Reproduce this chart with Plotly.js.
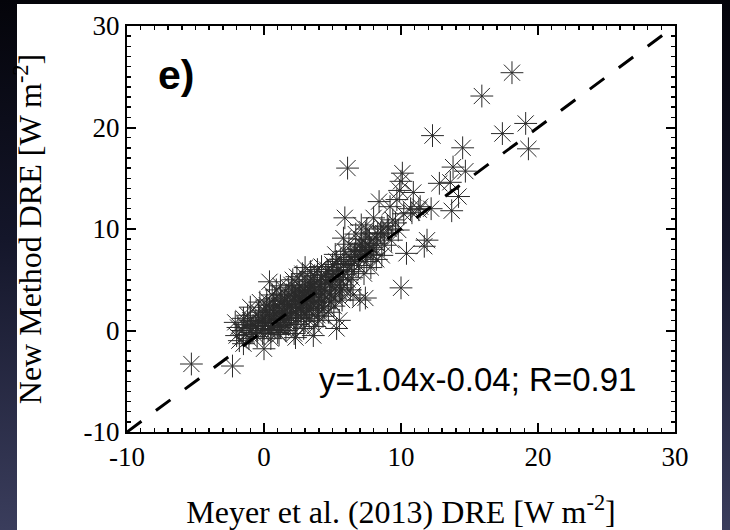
<!DOCTYPE html>
<html>
<head>
<meta charset="utf-8">
<script src="https://cdn.plot.ly/plotly-3.0.1.min.js"></script>
<style>
  html, body { margin: 0; padding: 0; width: 730px; height: 530px; overflow: hidden; }
  body { background: linear-gradient(to bottom, #04040a 0%, #14162a 45%, #3a3d5c 100%); position: relative; }
  #panel { position: absolute; left: 17px; top: 4px; width: 705px; height: 526px; background: #ffffff; }
  #chart { position: absolute; left: 0; top: 0; width: 730px; height: 530px; }
</style>
</head>
<body>
<div id="panel"></div>
<div id="chart"></div>
<script>
// Meyer et al. (2013) DRE (x) and New Method DRE (y), W m-2
const meyerDRE = [
  -5.3, -2.3,
  -2.0, -1.9, -2.1, -1.8,
  -1.5, -1.6, -1.4, -1.5, -1.3,
  -1.0, -1.1, -0.9, -1.0, -1.2, -0.8, -1.0,
  -0.5, -0.4, -0.6, -0.5, -0.3, -0.6, -0.4,
  0.0, 0.1, -0.1, 0.0, 0.2, -0.1, 0.1, 0.0, 0.2,
  0.4, 0.5, 0.3, 0.4, 0.6, 0.3, 0.5, 0.4,
  0.8, 0.9, 0.7, 0.8, 1.0, 0.7, 0.9, 0.8,
  1.2, 1.3, 1.1, 1.2, 1.4, 1.1, 1.3, 1.2, 1.4,
  1.6, 1.7, 1.5, 1.6, 1.8, 1.5, 1.7, 1.6, 1.8,
  2.0, 2.1, 1.9, 2.0, 2.2, 1.9, 2.1, 2.0, 2.2,
  2.3, 2.4, 2.3, 2.5, 2.3, 2.4, 2.5, 2.4,
  2.7, 2.8, 2.6, 2.7, 2.9, 2.6, 2.8, 2.7, 2.9,
  3.0, 3.1, 3.0, 3.2, 3.0, 3.1, 3.2, 3.0, 3.1,
  3.4, 3.5, 3.3, 3.4, 3.6, 3.3, 3.5, 3.4, 3.6,
  3.7, 3.8, 3.7, 3.9, 3.7, 3.8, 3.9, 3.7,
  4.0, 4.1, 4.0, 4.2, 4.0, 4.1, 4.2, 4.0,
  4.4, 4.5, 4.3, 4.4, 4.6, 4.5, 4.3, 4.4,
  4.8, 4.9, 4.7, 4.8, 5.0, 4.7, 4.9,
  5.3, 5.2, 5.1, 5.2, 5.3, 5.1, 5.2,
  5.5, 5.6, 5.4, 5.5, 5.6, 5.5,
  5.8, 5.9, 5.7, 5.8, 5.9, 5.8, 5.7,
  6.2, 6.3, 6.1, 6.2, 6.1, 6.3,
  6.6, 6.7, 6.5, 6.6, 6.7, 6.5,
  7.0, 7.1, 7.1, 7.0, 6.9, 7.1, 7.0,
  7.4, 7.5, 7.3, 7.4, 7.4, 7.5,
  7.8, 7.9, 7.7, 7.8, 8.0,
  8.2, 8.0, 8.3, 8.2, 8.4,
  8.7, 8.8, 8.6,
  9.2, 9.3, 9.1,
  9.7, 9.8, 9.6, 9.9,
  10.1, 10.0, 10.0, 10.2, 10.4,
  10.8, 10.9, 10.7,
  11.4, 11.3, 11.9, 11.7, 12.3, 12.2, 12.8,
  13.7, 13.8, 13.6, 14.2, 14.5, 14.7,
  15.9, 17.4, 18.1, 19.1, 19.3,
  // extra points filling the dense core
  0.6, 1.0, 1.4, 1.9, 2.2, 2.6, 3.0, 3.3, 3.6, 4.1, 4.6, 5.0, 5.4, 6.0, 6.4, 6.8, 7.2, 7.6, 8.1, 8.5, 9.0, 9.4,
  -0.2, 0.5, 1.1, 1.7, 2.4, 2.9, 3.5, 4.2, 4.9, 5.6, 6.4, 7.3, 8.6
];
const newMethodDRE = [
  -3.3, -3.5,
  -0.5, 0.3, 0.8, -1.0,
  -1.3, 0.0, 0.6, 1.2, -0.4,
  2.3, -0.8, 0.2, 1.0, 1.5, 0.5, -0.2,
  0.0, 1.8, 0.9, -0.6, 2.8, 0.4, 1.3,
  -1.8, 0.5, 1.0, 2.0, 3.0, -0.3, 1.5, 0.2, 2.5,
  4.8, 1.2, 0.0, 2.2, 3.5, 0.8, -0.8, 1.8,
  0.4, 1.6, 2.6, 3.2, -0.2, 1.1, 4.0, 2.0,
  0.3, 1.0, 2.4, 3.6, 1.7, -0.4, 2.9, 4.4, 0.8,
  1.2, 2.2, 3.0, 0.0, 4.2, 1.8, 2.6, 3.5, 0.6,
  2.0, 3.3, 1.0, 4.5, -0.3, 2.6, 5.0, 1.5, 3.8,
  -0.7, 2.9, 1.8, 4.0, 3.4, 0.6, 2.3, 5.3,
  1.3, 3.1, 4.4, 2.5, 0.2, 3.7, 5.6, 1.9, 2.8,
  6.2, 2.2, 3.5, 4.8, 0.9, 1.6, 3.0, 4.1, 2.7,
  3.3, 5.0, 2.0, 4.3, -0.5, 1.2, 3.8, 5.8, 2.6,
  4.0, 2.9, 5.4, 1.5, 3.5, 4.7, 6.0, 0.4,
  3.2, 4.6, 2.4, 5.2, 1.0, 3.9, 6.3, 2.0,
  4.0, 5.5, 3.0, 2.2, 6.0, 4.8, 1.4, 3.6,
  4.5, 2.8, 5.8, 3.6, 6.5, 1.8, 5.0,
  0.2, 4.2, 5.6, 3.2, 6.8, 2.4, 7.5,
  1.0, 5.0, 6.2, 3.8, 7.0, 4.5,
  5.5, 7.8, 4.2, 6.5, 11.1, 9.1, 3.0,
  6.0, 7.2, 5.0, 8.5, 16.0, 4.0,
  6.8, 8.0, 5.8, 7.5, 9.5, 3.5,
  7.2, 8.6, 10.4, 3.0, 6.4, 9.0, 7.8,
  7.8, 6.8, 8.2, 9.6, 3.2, 10.0,
  8.2, 7.5, 9.0, 6.2, 8.0,
  8.6, 11.1, 9.5, 7.0, 12.7,
  9.6, 8.4, 10.2,
  12.2, 8.9, 10.0,
  12.9, 9.9, 10.6, 13.8,
  15.5, 4.2, 14.7, 11.5, 7.6,
  11.6, 13.6, 12.0,
  12.2, 11.9, 8.9, 8.3, 19.2, 12.0, 14.5,
  11.8, 16.1, 14.6, 13.2, 18.0, 15.7,
  23.1, 19.4, 25.4, 20.4, 17.9,
  // extra points filling the dense core
  1.4, 2.3, 1.9, 2.4, 3.2, 3.0, 3.9, 4.2, 4.5, 4.3, 5.0, 5.3, 5.9, 6.6, 7.0, 7.3, 7.9, 8.4, 9.2, 9.6, 10.3, 10.9,
  0.7, 0.1, 0.5, 1.0, 1.2, 1.6, 2.2, 2.8, 3.4, 4.0, 5.2, 5.6, 7.4
];
const oneToOne = [-10, 30];
const axisRange = [-10, 30];
const tickVals = [-10, 0, 10, 20, 30];
const tickText = ['-10', '0', '10', '20', '30'];
const minorStep = 1;
const panelLabel = 'e)';
const fitText = 'y=1.04x-0.04; R=0.91';
const xTitle = 'Meyer et al. (2013) DRE [W m<sup>-2</sup>]';
const yTitle = 'New Method DRE [W m<sup>-2</sup>]';

const serif = 'Liberation Serif, Times New Roman, serif';
const sans = 'Liberation Sans, Arial, sans-serif';

const traces = [
  {
    x: meyerDRE, y: newMethodDRE, mode: 'markers', type: 'scatter',
    marker: { symbol: 'asterisk-open', size: 19, color: '#2a2a2a', line: { color: '#2a2a2a', width: 1 } },
    showlegend: false
  },
  {
    x: oneToOne, y: oneToOne, mode: 'lines', type: 'scatter',
    line: { color: '#000', width: 3, dash: '18px,18px' },
    hoverinfo: 'skip', showlegend: false
  }
];

function axis(titleText, standoff) {
  return {
    range: axisRange, tickmode: 'array', tickvals: tickVals, ticktext: tickText,
    ticks: 'inside', ticklen: 9, tickwidth: 2, tickcolor: '#000',
    minor: { tickmode: 'linear', tick0: axisRange[0], dtick: minorStep, ticks: 'inside', ticklen: 4, tickwidth: 1.5, tickcolor: '#000' },
    showline: true, linecolor: '#000', linewidth: 2, mirror: 'allticks',
    showgrid: false, zeroline: false, automargin: false,
    tickfont: { family: serif, size: 27, color: '#000' },
    title: { text: titleText, font: { family: serif, size: 32, color: '#000' }, standoff: standoff }
  };
}

const layout = {
  width: 730, height: 530,
  margin: { l: 127, r: 55, t: 26, b: 98 },
  paper_bgcolor: 'rgba(0,0,0,0)', plot_bgcolor: 'rgba(0,0,0,0)',
  xaxis: axis(xTitle, 30),
  yaxis: axis(yTitle, 32),
  annotations: [
    { x: -7.9, y: 25.2, xref: 'x', yref: 'y', xanchor: 'left', yanchor: 'middle', showarrow: false,
      text: '<b>' + panelLabel + '</b>', font: { family: sans, size: 41, color: '#000' } },
    { x: 27.3, y: -4.8, xref: 'x', yref: 'y', xanchor: 'right', yanchor: 'middle', showarrow: false,
      text: fitText, font: { family: sans, size: 33, color: '#000' } }
  ]
};

Plotly.newPlot('chart', traces, layout, { displayModeBar: false, staticPlot: true }).then(gd => {
  // make sure the axis tick marks are painted on top with a solid black stroke
  gd.querySelectorAll('path.xtick, path.ytick').forEach(p => {
    p.style.stroke = '#000';
    p.style.strokeOpacity = '1';
    p.style.visibility = 'visible';
  });
  gd.querySelectorAll('g.xaxislayer-above, g.yaxislayer-above').forEach(g => {
    if (g.parentNode) g.parentNode.appendChild(g);
  });
});
</script>
</body>
</html>
